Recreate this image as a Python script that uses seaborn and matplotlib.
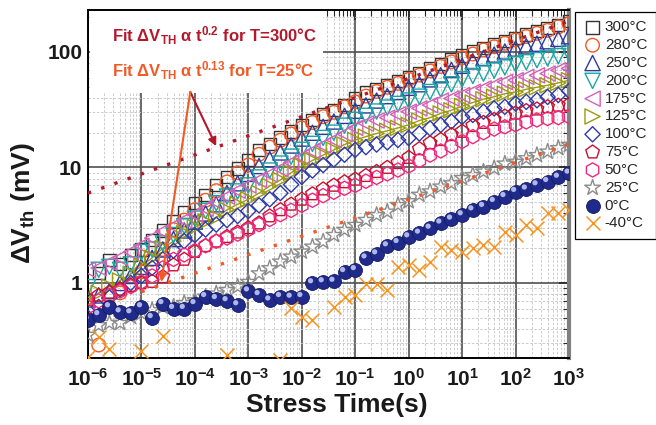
import numpy as np
import matplotlib
matplotlib.use("Agg")
import matplotlib.pyplot as plt
import seaborn as sns
from matplotlib.patches import Rectangle
from matplotlib.markers import MarkerStyle
from matplotlib.transforms import Affine2D
from matplotlib.ticker import LogLocator, NullFormatter

nan = np.nan

# ---------- DATA ----------
# stress time grid, 5 points per decade (log10 of seconds)
time_exp = [-6.0, -5.8, -5.6, -5.4, -5.2, -5.0, -4.8, -4.6, -4.4, -4.2,
            -4.0, -3.8, -3.6, -3.4, -3.2, -3.0, -2.8, -2.6, -2.4, -2.2,
            -2.0, -1.8, -1.6, -1.4, -1.2, -1.0, -0.8, -0.6, -0.4, -0.2,
            0.0, 0.2, 0.4, 0.6, 0.8, 1.0, 1.2, 1.4, 1.6, 1.8,
            2.0, 2.2, 2.4, 2.6, 2.8, 3.0]
stress_time = 10.0 ** np.array(time_exp)

# delta Vth in mV for each temperature
dvth_300 = [nan, 1.22, 1.58, 1.45, 1.75, 1.95, 2.35, 2.85, 3.4, 4.1,
            4.9, 5.8, 7.0, 8.3, 9.8, 11.6, 14.2, 16.0, 18.2, 20.5,
            23.2, 25.8, 29.0, 31.5, 35.0, 39.5, 44.5, 48, 52, 56,
            61, 66, 72, 79, 86, 93, 102, 109, 117, 125,
            133, 142, 152, 161, 172, 185]
dvth_280 = [nan, 0.29, 0.62, 0.82, 0.95, 1.25, 1.6, 1.95, 2.9, 3.5,
            4.3, 5.2, 6.3, 7.5, 9.0, 10.5, 13.0, 15.0, 17.2, 19.5,
            22, 24.5, 27.5, 30, 33.5, 37, 41.5, 45.5, 49.5, 53.5,
            58, 63, 68.5, 75, 82, 89, 96, 104, 111, 119,
            127, 136, 145, 154, 165, 176]
dvth_250 = [0.72, 0.78, 0.85, 1.0, 1.15, 1.38, 1.65, 1.95, 2.4, 2.85,
            3.4, 4.0, 4.8, 6.0, 7.3, 8.8, 10.3, 11.8, 13.5, 15.5,
            17.8, 20, 22.5, 25, 28, 31, 34.5, 38, 41.5, 45,
            49, 52.6, 58, 63, 70, 76, 83, 89, 95, 101,
            107, 112, 118, 124, 130, 137]
dvth_200 = [0.92, 1.3, 1.38, 1.3, 1.45, 1.85, 1.95, 2.2, 2.6, 3.1,
            3.6, 4.2, 4.9, 5.6, 6.2, 7.0, 8.2, 9.4, 10.8, 12.4,
            14.2, 16, 18, 20, 23, 25.8, 28, 30.5, 33, 35.5,
            38, 41, 45, 47.5, 52.5, 58, 62, 65, 69, 73.5,
            78.5, 81.5, 85, 88, 92, 97]
dvth_175 = [1.3, 1.35, 1.5, 1.65, 1.85, 2.1, 2.45, 2.8, 3.1, 3.5,
            3.9, 4.4, 5.0, 5.6, 6.3, 7.0, 7.8, 8.7, 9.7, 11,
            12.3, 13.8, 15.5, 17.3, 19.5, 22, 24, 25.5, 27, 28.8,
            30.4, 32.5, 34.7, 38, 39.6, 42.3, 45.2, 48.3, 51.5, 55,
            57, 60.8, 62.8, 65, 69.4, 72]
dvth_125 = [0.7, 0.82, 0.93, 1.05, 1.2, 1.4, 1.65, 2.0, 2.3, 2.7,
            3.05, 3.4, 3.7, 4.3, 4.8, 5.3, 6.0, 6.9, 7.8, 9.0,
            10.3, 11.5, 12.8, 14.2, 15.8, 17.3, 18.5, 19.7, 20.8, 22,
            23.4, 25.5, 27, 29.4, 31.3, 34, 36.5, 39, 41, 43.5,
            45, 47.5, 49.5, 51.5, 54, 57]
dvth_100 = [0.5, 0.62, 0.75, 0.88, 1.0, 1.15, 1.35, 1.6, 1.9, 2.3,
            2.6, 2.9, 3.2, 3.5, 3.8, 4.2, 4.7, 5.3, 6.0, 7.1,
            8.3, 9.4, 10.5, 11.7, 12.9, 14.2, 15.0, 15.8, 16.5, 17.3,
            18.0, 19.7, 21.8, 23.4, 25, 27.4, 28.5, 30.4, 32.5, 33.5,
            35.8, 37, 38.2, 40.8, 42.5, 46]
dvth_75 = [0.72, 0.78, 0.83, 0.88, 0.95, 1.0, 1.03, 1.13, 1.43, 1.6,
           1.87, 2.1, 2.3, 2.52, 2.75, 3.0, 3.3, 3.8, 4.3, 4.8,
           5.3, 5.9, 6.5, 7.0, 7.5, 7.9, 8.5, 9.2, 10.0, 11.0,
           12.2, 14.5, 16.3, 17.4, 19.2, 20.5, 23, 24.5, 26, 27.8,
           29.5, 31, 32, 33.5, 34.5, 35]
dvth_50 = [0.62, 0.7, 0.78, 0.85, 0.93, 1.02, 1.15, 1.35, 1.6, 1.75,
           1.9, 2.1, 2.3, 2.45, 2.65, 2.9, 3.2, 3.55, 3.9, 4.25,
           4.7, 5.2, 5.7, 6.1, 6.6, 7.0, 7.6, 8.2, 8.8, 9.5,
           10.3, 11.5, 12.8, 13.9, 15.3, 16.8, 18.5, 20, 21.5, 22.5,
           23.5, 24.8, 25.8, 26.5, 27, 27.5]
dvth_25 = [0.355, 0.43, 0.45, 0.45, 0.51, 0.55, 0.58, 0.62, 0.62, 0.67,
           0.71, 0.76, 0.81, 0.87, 0.93, 1.02, 1.21, 1.34, 1.53, 1.69,
           1.87, 2.06, 2.28, 2.6, 2.88, 3.18, 3.51, 3.88, 4.14, 4.73,
           5.1, 5.8, 6.2, 6.83, 7.29, 8.1, 8.6, 9.2, 9.85, 10.8,
           11.2, 12.0, 12.8, 13.7, 14.7, 15.7]
dvth_0 = [0.48, 0.53, 0.62, 0.56, 0.55, 0.62, 0.50, 0.66, 0.60, 0.60,
          0.66, 0.76, 0.73, 0.70, 0.645, 0.85, 0.79, 0.71, 0.76, 0.75,
          0.76, 1.0, 1.02, 1.03, 1.25, 1.30, 1.64, 1.78, 2.09, 2.23,
          2.5, 2.69, 2.97, 3.29, 3.56, 3.88, 4.28, 4.58, 5.06, 5.58,
          6.18, 6.48, 7.05, 7.53, 8.2, 8.9]
dvth_m40 = [0.23, 0.34, 0.27, nan, nan, 0.26, nan, 0.35, nan, nan,
            nan, nan, nan, 0.24, nan, nan, nan, nan, 0.215, 0.61,
            0.51, 0.48, nan, 0.62, 0.75, 0.79, 0.98, 0.98, 0.87, 1.38,
            1.43, 1.30, 1.52, 2.05, 1.93, 1.86, 2.0, 2.13, 2.05, 2.76,
            2.6, 3.18, 3.0, 4.04, 4.04, 4.3]

# power-law fit lines (end points)
fit300_time = [1e-6, 1e3]
fit300_dvth = [6.0, 185]
fit25_time = [1e-5, 1e3]
fit25_dvth = [0.84, 16.0]

# annotation arrows
arrow_start = (8.2e-5, 45)
arrow300_tip = (2.5e-4, 15.3)
arrow25_tip = (2.35e-5, 1.02)

x_tick_exp = [-6, -5, -4, -3, -2, -1, 0, 1, 2, 3]
y_ticks = [1, 10, 100]

# ---------- STYLE ----------
sns.set_theme(style="white")
plt.rcParams['font.family'] = ['Liberation Sans', 'DejaVu Sans']
plt.rcParams['mathtext.fontset'] = 'custom'
plt.rcParams['mathtext.rm'] = 'Liberation Sans'
plt.rcParams['mathtext.bf'] = 'Liberation Sans:bold'
plt.rcParams['mathtext.it'] = 'Liberation Sans:italic'
plt.rcParams['mathtext.default'] = 'bf'

dark_red = '#b3182b'
fit_orange = '#f05a28'

# label, values, marker, color, size
open_series = [
    ('300°C', dvth_300, 's', '#333333', 78),
    ('280°C', dvth_280, 'o', '#f15a24', 95),
    ('250°C', dvth_250, '^', '#2e3b9c', 120),
    ('200°C', dvth_200, 'v', '#17a6a3', 120),
    ('175°C', dvth_175, '<', '#d462b6', 120),
    ('125°C', dvth_125, '>', '#9c9a12', 120),
    ('100°C', dvth_100, 'D', '#2f3ba8', 60),
    ('75°C', dvth_75, 'p', '#c8102e', 105),
    ('50°C', dvth_50, 'h', '#f0287d', 105),
    ('25°C', dvth_25, '*', '#8c8c8c', 140),
]

fig = plt.figure(figsize=(6.56, 4.25), dpi=100)
ax = fig.add_axes([88 / 656, 1 - 358 / 425, (569 - 88) / 656, 348 / 425])
ax.set_xscale('log')
ax.set_yscale('log')
ax.set_xlim(1e-6, 1e3)
ax.set_ylim(0.224, 231)

for label, vals, marker, color, size in open_series:
    sns.scatterplot(x=stress_time, y=vals, ax=ax, marker=marker, s=size,
                    facecolor='none', edgecolor=color, linewidth=1.0,
                    label=label, zorder=3)
    if label == '125°C':
        sns.lineplot(x=stress_time, y=vals, ax=ax, color=color,
                     linewidth=1.0, legend=False, zorder=2.5)

# 0°C: shaded balls
sns.scatterplot(x=stress_time, y=dvth_0, ax=ax, marker='o', s=100,
                color='#1f2a8a', edgecolor='#141c5e', linewidth=0.6,
                label='0°C', zorder=3)
shine = MarkerStyle('o', transform=Affine2D().scale(0.38).translate(-0.14, 0.16))
sns.scatterplot(x=stress_time, y=dvth_0, ax=ax, marker=shine, s=100,
                color='#aeb6ee', edgecolor='none', linewidth=0,
                legend=False, zorder=3.1)

# -40°C: crosses
sns.scatterplot(x=stress_time, y=dvth_m40, ax=ax, marker='x', s=100,
                color='#f7941d', linewidth=1.1, label='-40°C', zorder=3)

# fit lines
sns.lineplot(x=fit300_time, y=fit300_dvth, ax=ax, color=dark_red,
             linewidth=2.4, linestyle=(0, (1.0, 3.2)), legend=False, zorder=5)
sns.lineplot(x=fit25_time, y=fit25_dvth, ax=ax, color=fit_orange,
             linewidth=2.4, linestyle=(0, (1.0, 3.2)), legend=False, zorder=5)

# white box behind the fit text
ax.add_patch(Rectangle((0.004, 0.761), 0.485, 0.236, transform=ax.transAxes,
                       facecolor='white', edgecolor='none', zorder=1))
ax.text(0.05, 0.908, r'Fit ΔV$_{TH}$ α t$^{0.2}$ for T=300°C', transform=ax.transAxes,
        color=dark_red, fontsize=12, fontweight='bold', va='baseline', zorder=6)
ax.text(0.05, 0.807, r'Fit ΔV$_{TH}$ α t$^{0.13}$ for T=25°C', transform=ax.transAxes,
        color=fit_orange, fontsize=12, fontweight='bold', va='baseline', zorder=6)

ax.annotate('', xy=arrow300_tip, xytext=arrow_start,
            arrowprops=dict(arrowstyle='-|>', color=dark_red, lw=1.5,
                            mutation_scale=12, shrinkA=0, shrinkB=0), zorder=6)
ax.annotate('', xy=arrow25_tip, xytext=arrow_start,
            arrowprops=dict(arrowstyle='-|>', color=fit_orange, lw=1.5,
                            mutation_scale=12, shrinkA=0, shrinkB=0), zorder=6)

# ---------- AXES ----------
ax.set_xticks([10.0 ** e for e in x_tick_exp])
ax.set_xticklabels([r'$\mathbf{10^{%d}}$' % e for e in x_tick_exp])
ax.set_yticks(y_ticks)
ax.set_yticklabels([str(v) for v in y_ticks])
ax.xaxis.set_minor_locator(LogLocator(base=10, subs=np.arange(2, 10), numticks=100))
ax.yaxis.set_minor_locator(LogLocator(base=10, subs=np.arange(2, 10), numticks=100))
ax.xaxis.set_minor_formatter(NullFormatter())
ax.yaxis.set_minor_formatter(NullFormatter())

for lab in ax.get_xticklabels() + ax.get_yticklabels():
    lab.set_fontweight('bold')
    lab.set_fontsize(15)
    lab.set_color('#1a1a1a')

ax.tick_params(which='both', direction='in', top=True, right=True)
ax.tick_params(which='major', length=7, width=1.2)
ax.tick_params(which='minor', length=4, width=0.8)
ax.tick_params(axis='x', which='major', pad=7)
ax.tick_params(axis='y', which='major', pad=4)

ax.grid(which='major', color='#505050', linewidth=1.2, linestyle='-')
ax.grid(which='minor', color='#c4c4c4', linewidth=0.6, linestyle=(0, (3, 2)))
ax.set_axisbelow(True)

for side in ['left', 'bottom', 'top']:
    ax.spines[side].set_color('black')
    ax.spines[side].set_linewidth(1.4)
ax.spines['right'].set_color('#808080')
ax.spines['right'].set_linewidth(3)

ax.set_xlabel('Stress Time(s)', fontsize=19, fontweight='bold', color='#1a1a1a')
ax.xaxis.set_label_coords(0.518, -0.1)
ax.set_ylabel(r'ΔV$_{th}$ (mV)', fontsize=19, fontweight='bold', color='#1a1a1a')
ax.yaxis.set_label_coords(-0.105, 0.445)

handles, labels = ax.get_legend_handles_labels()
leg = ax.legend(handles, labels, loc='upper left',
                bbox_to_anchor=(575 / 656, 1 - 12 / 425), bbox_transform=fig.transFigure,
                frameon=True, fancybox=False, edgecolor='black', framealpha=1,
                prop={'size': 11}, handletextpad=0.2, borderpad=0.55,
                labelspacing=0.25, handlelength=1.2, borderaxespad=0, scatterpoints=1)
leg.get_frame().set_linewidth(0.9)

fig.savefig('out.png', dpi=100)
